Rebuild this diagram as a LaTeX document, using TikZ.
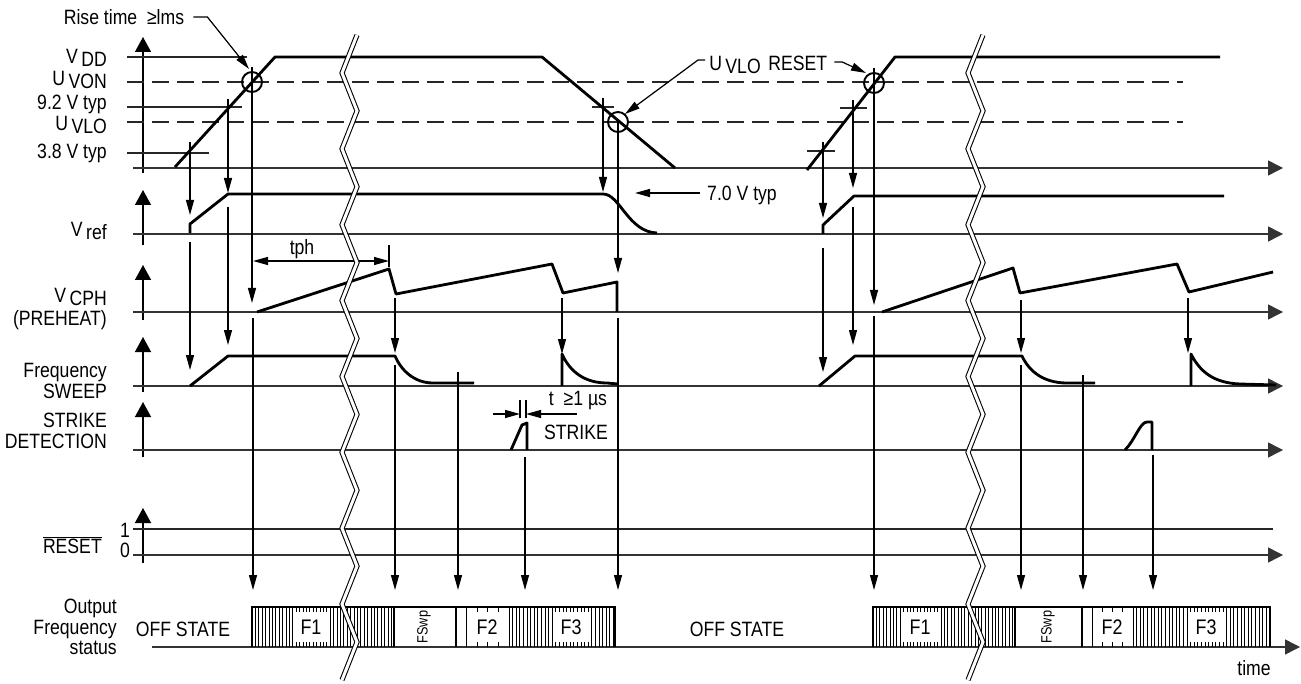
\documentclass[tikz,border=0pt]{standalone}
\usepackage{fontspec}
\setmainfont{Liberation Sans}[FakeStretch=0.85]
\usetikzlibrary{arrows.meta, positioning}
\newcommand{\pedice}[1]{\,\raisebox{-0.35ex}[0pt][0pt]{#1}}
\tikzset{
    etichetta/.style={inner sep=0.5pt, font=\fontsize{11.8}{11.6}\selectfont},
    piccola/.style={inner sep=1pt, font=\fontsize{8.5}{8.5}\selectfont},
    onda/.style={line width=1.6pt, line join=round, draw=black},
    soglia/.style={line width=0.8pt, draw=black!85},
    tratteggio/.style={soglia, dash pattern=on 3.4mm off 1.6mm},
    base/.style={line width=0.8pt, draw=black!80, -{Triangle[length=3mm, width=3mm]}},
    asse/.style={line width=0.8pt, -{Triangle[length=3mm, width=3.2mm]}},
    freccia/.style={line width=0.7pt, -{Triangle[length=3mm, width=1.6mm]}},
    quota/.style={line width=0.7pt, {Triangle[length=3mm, width=1.6mm]}-{Triangle[length=3mm, width=1.6mm]}},
    guida/.style={line width=0.7pt},
    cerchio/.style={line width=1.1pt},
    tratti/.style={line width=0.45pt},
    bordo/.style={line width=0.7pt},
    riquadro/.style={fill=white, minimum width=7.4mm, minimum height=6mm, inner sep=0pt, font=\fontsize{12}{11.6}\selectfont},
    rottura/.style={line width=0.6pt, double=white, double distance=0.6mm}
}

\begin{document}
\begin{tikzpicture}[x=0.2mm, y=-0.2mm]
    \useasboundingbox (0,0) rectangle (1301,684);

    % Etichette dei segnali
    \node (vdd) [etichetta, anchor=east] at (108,56) {V\pedice{DD}};
    \node (uvon) [etichetta, anchor=east] at (108,78) {U\pedice{VON}};
    \node (vtipico) [etichetta, anchor=east] at (108,104) {9.2 V typ};
    \node (uvlo) [etichetta, anchor=east] at (108,123) {U\pedice{VLO}};
    \node (vminimo) [etichetta, anchor=east] at (108,153) {3.8 V typ};
    \node (vref) [etichetta, anchor=east] at (108,229) {V\pedice{ref}};
    \node (vcph) [etichetta, anchor=east, align=right] at (108,309) {V\pedice{CPH}\\[2pt](PREHEAT)};
    \node (sweep) [etichetta, anchor=east, align=right] at (108,381) {Frequency\\SWEEP};
    \node (strike) [etichetta, anchor=east, align=right] at (108,431) {STRIKE\\DETECTION};
    \node (reset) [etichetta, anchor=east] at (103,545) {$\overline{\mbox{RESET}}$};
    \node (uno) [etichetta] at (125,530) {1};
    \node (zero) [etichetta] at (125,550) {0};
    \node (output) [etichetta, anchor=east, align=right] at (118,627) {Output\\Frequency\\status};
    \node (tempo) [etichetta] at (1254,668) {time};

    % Assi verticali
    \draw [asse] (143,173) -- (143,37);
    \draw [asse] (143,245) -- (143,190);
    \draw [asse] (143,320) -- (143,265);
    \draw [asse] (143,392) -- (143,337);
    \draw [asse] (143,457) -- (143,402);
    \draw [asse] (143,563) -- (143,508);

    % Linee di base
    \draw [base] (133,168) -- (1283,168);
    \draw [base] (133,234) -- (1283,234);
    \draw [base] (133,312) -- (1283,312);
    \draw [base] (133,386) -- (1283,386);
    \draw [base] (133,450) -- (1283,450);
    \draw [base] (133,555) -- (1283,555);
    \draw [soglia] (133,529) -- (1273,529);
    \draw [base] (152,647) -- (1300,647);

    % Soglie di V_DD
    \draw [soglia] (127,57) -- (247,57);
    \draw [soglia] (127,107) -- (242,107);
    \draw [soglia] (127,153) -- (209,153);
    \draw [tratteggio] (127,82) -- (1183,82);
    \draw [tratteggio] (127,122) -- (1183,122);
    \draw [soglia] (592,107) -- (614,107);
    \draw [soglia] (807,151) -- (835,151);
    \draw [soglia] (840,108) -- (867,108);

    % Forme d'onda
    \draw [onda] (175,167) -- (275,57) -- (542,57) -- (675,168);
    \draw [onda] (807,170) -- (895,57) -- (1220,57);
    \draw [onda] (190,233) -- (190,224) -- (228,194) -- (603,194)
        .. controls (620,194) and (628,232) .. (657,233);
    \draw [onda] (823,234) -- (823,225) -- (854,196) -- (1224,196);
    \draw [onda] (257,312) -- (389,269) -- (396,294) -- (552,264) -- (563,293) -- (617,282) -- (617,312);
    \draw [onda] (882,312) -- (1013,268) -- (1020,293) -- (1177,264) -- (1189,292) -- (1273,272);
    \draw [onda] (190,386) -- (228,356) -- (395,356)
        .. controls (401,370) and (414,383) .. (433,383) -- (474,383);
    \draw [onda] (562,386) -- (562,354) .. controls (570,372) and (585,383) .. (607,383) -- (618,384);
    \draw [onda] (819,386) -- (855,356) -- (1022,356)
        .. controls (1029,371) and (1043,383) .. (1067,383) -- (1095,383);
    \draw [onda] (1191,386) -- (1191,354) .. controls (1200,372) and (1214,383) .. (1240,384) -- (1276,385);
    \draw [onda] (511,450) -- (522,425) -- (527,423) -- (527,450);
    \draw [onda] (1125,450) .. controls (1135,440) and (1140,422) .. (1147,422) -- (1152,422) -- (1152,450);

    % Cerchi sulle soglie
    \coordinate (c1) at (252,82);
    \coordinate (c2) at (618,122);
    \coordinate (c3) at (874,83);
    \draw [cerchio] (c1) circle (10);
    \draw [cerchio] (c2) circle (10);
    \draw [cerchio] (c3) circle (10);

    % Richiami
    \node (salita) [etichetta] at (124,17) {Rise time\ \ ≥lms};
    \coordinate (p1) at (249,69);
    \draw [freccia] (salita.east) ++(8,0) -- ++(14,0) -- (p1);
    \node (lvlo) [etichetta] at (735,63) {U\pedice{VLO}};
    \node (lreset) [etichetta, right=3pt of lvlo.north east, anchor=north west] {RESET};
    \coordinate (p2) at (625,114);
    \coordinate (p3) at (866,73);
    \draw [freccia] (lvlo.west) ++(-3,-3) -- ++(-7,0) -- (p2);
    \draw [freccia] (lreset.east) ++(6,-1) -- ++(8,0) -- (p3);
    \node (sette) [etichetta] at (742,195) {7.0 V typ};
    \coordinate (p4) at (635,193);
    \draw [freccia] (sette.west) ++(-6,-2) -- (p4);

    % Quota tph
    \node (tph) [etichetta] at (302,249) {tph};
    \coordinate (q1) at (253,261);
    \coordinate (q2) at (389,261);
    \draw [quota] (q1) -- (q2);
    \draw [guida] (389,245) -- (389,267);

    % Quota impulso di innesco
    \draw [guida] (520,400) -- (520,418);
    \draw [guida] (526,400) -- (526,418);
    \draw [freccia] (493,414) -- (520,414);
    \draw [freccia] (577,414) -- (526,414);
    \node (durata) [etichetta] at (578,401) {t\ \ ≥1 µs};
    \node (lstrike) [etichetta] at (576,432) {STRIKE};

    % Frecce verticali, prima accensione
    \draw [freccia] (190,142) -- (190,215);
    \draw [freccia] (190,242) -- (190,370);
    \draw [freccia] (228,99) -- (228,193);
    \draw [freccia] (228,207) -- (228,345);
    \draw [freccia] (252,67) -- (252,303);
    \draw [freccia] (253,318) -- (253,590);
    \draw [freccia] (395,298) -- (395,353);
    \draw [freccia] (395,365) -- (395,590);
    \draw [freccia] (458,372) -- (458,590);
    \draw [freccia] (562,298) -- (562,354);
    \draw [freccia] (525,457) -- (525,590);
    \draw [freccia] (603,98) -- (603,192);
    \draw [freccia] (618,122) -- (618,273);
    \draw [freccia] (618,318) -- (618,590);

    % Frecce verticali, riaccensione
    \draw [freccia] (823,142) -- (823,218);
    \draw [freccia] (823,248) -- (823,372);
    \draw [freccia] (853,100) -- (853,188);
    \draw [freccia] (853,207) -- (853,345);
    \draw [freccia] (874,68) -- (874,305);
    \draw [freccia] (874,316) -- (874,590);
    \draw [freccia] (1021,300) -- (1021,353);
    \draw [freccia] (1021,365) -- (1021,590);
    \draw [freccia] (1083,375) -- (1083,590);
    \draw [freccia] (1188,298) -- (1188,353);
    \draw [freccia] (1153,455) -- (1153,590);

    % Stato della frequenza di uscita
    \node (off1) [etichetta] at (183,629) {OFF STATE};
    \node (off2) [etichetta] at (737,629) {OFF STATE};
    \foreach \h in {252,255.4,...,394} \draw [tratti] (\h,607) -- (\h,647);
    \foreach \h in {456,466.6,...,510} \draw [tratti] (\h,607) -- (\h,647);
    \foreach \h in {509,512.6,...,615} \draw [tratti] (\h,607) -- (\h,647);
    \foreach \h in {873,876.4,...,1015} \draw [tratti] (\h,607) -- (\h,647);
    \foreach \h in {1082,1092.2,...,1134} \draw [tratti] (\h,607) -- (\h,647);
    \foreach \h in {1133,1136.6,...,1270} \draw [tratti] (\h,607) -- (\h,647);
    \draw [bordo] (252,647) -- (252,607) -- (615,607) -- (615,647);
    \draw [bordo] (394,607) -- (394,647);
    \draw [bordo] (456,607) -- (456,647);
    \draw [bordo] (873,647) -- (873,607) -- (1270,607) -- (1270,647);
    \draw [bordo] (1015,607) -- (1015,647);
    \draw [bordo] (1082,607) -- (1082,647);
    \node (f1a) [riquadro] at (311,627) {F1};
    \node (f2a) [riquadro] at (487,627) {F2};
    \node (f3a) [riquadro] at (571,627) {F3};
    \node (swa) [piccola, rotate=90] at (424,627) {FSwp};
    \node (f1b) [riquadro] at (920,627) {F1};
    \node (f2b) [riquadro] at (1112,627) {F2};
    \node (f3b) [riquadro] at (1206,627) {F3};
    \node (swb) [piccola, rotate=90] at (1048,627) {FSwp};

    % Interruzioni dell'asse dei tempi
    \draw [rottura] (357,35) \foreach \k in {1,...,17} { -- ({ifthenelse(isodd(\k),342,357)},{35+37.94*\k}) };
    \draw [rottura] (983,35) \foreach \k in {1,...,17} { -- ({ifthenelse(isodd(\k),968,983)},{35+37.94*\k}) };

\end{tikzpicture}
\end{document}
